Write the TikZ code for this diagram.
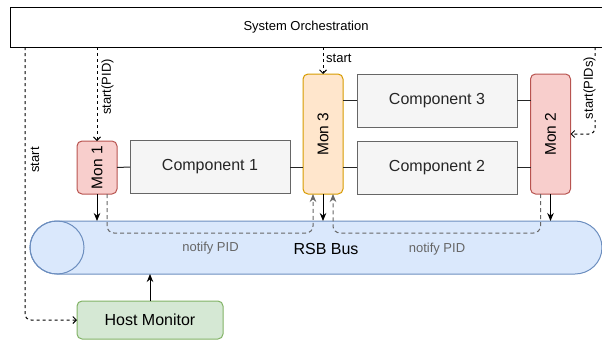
\documentclass[tikz,border=0pt]{standalone}
\usepackage{fontspec}
\setmainfont{Liberation Sans}
\usetikzlibrary{arrows.meta,calc}
\definecolor{monred}{HTML}{F8CECC}
\definecolor{monredline}{HTML}{B85450}
\definecolor{monorange}{HTML}{FFE6CC}
\definecolor{monorangeline}{HTML}{D79B00}
\definecolor{compfill}{HTML}{F5F5F5}
\definecolor{compline}{HTML}{666666}
\definecolor{busfill}{HTML}{DAE8FC}
\definecolor{busline}{HTML}{6C8EBF}
\definecolor{hostfill}{HTML}{D5E8D4}
\definecolor{hostline}{HTML}{82B366}
\definecolor{notifygray}{HTML}{666666}
\begin{document}
\begin{tikzpicture}[x=1pt,y=-1pt,
  base/.style={inner sep=0pt,outer sep=0pt,line width=1pt},
  compbox/.style={base,draw=compline,fill=compfill,minimum width=160pt,minimum height=53pt,font=\fontsize{16}{18}\selectfont,text=black!85},
  monbox/.style={base,rounded corners=5pt,minimum width=40pt,font=\fontsize{15.5}{18}\selectfont},
  redmon/.style={monbox,draw=monredline,fill=monred},
  orangemon/.style={monbox,draw=monorangeline,fill=monorange},
  link/.style={line width=1pt,draw=black!85},
  feed/.style={line width=1pt,-{Stealth[length=8pt,width=6.5pt]}},
  startline/.style={line width=1pt,dash pattern=on 3pt off 3pt,rounded corners=6pt,-{Straight Barb[length=3.5pt,width=7pt]}},
  notifyline/.style={line width=1pt,draw=notifygray,dash pattern=on 4pt off 3pt,rounded corners=7pt,-{Stealth[length=8pt,width=6.5pt]},fill=none},
  small/.style={font=\fontsize{13}{15}\selectfont,inner sep=1pt}
]
\useasboundingbox (0,0) rectangle (602,340);

% orchestration layer across the top
\node[base,draw=black,fill=white,minimum width=612pt,minimum height=40pt,anchor=north west] (orch) at (10,7) {};
\node[small] (orchtxt) at (306,27) {System Orchestration};

% message bus drawn as a horizontal cylinder
\path[draw=busline,fill=busfill,line width=1pt]
  (57,221) -- (575,221) arc[start angle=90,end angle=-90,x radius=27,y radius=-26.5]
  -- (57,274) arc[start angle=-90,end angle=-270,x radius=27,y radius=-26.5] -- cycle;
\draw[busline,line width=1pt] (57,247.5) ellipse[x radius=27,y radius=26.5];
\node[base,minimum width=572pt,minimum height=53pt] (bus) at (316,247.5) {};
\node[font=\fontsize{16}{18}\selectfont] (bustxt) at (326,248.5) {RSB Bus};

% monitors and components
\node[redmon,minimum height=53pt] (mon1) at (97,167.5) {\rotatebox{90}{Mon 1}};
\node[compbox] (comp1) at (210,167) {Component 1};
\node[orangemon,minimum height=120pt] (mon3) at (323,134) {\rotatebox{90}{Mon 3}};
\node[compbox] (comp3) at (437,100.5) {Component 3};
\node[compbox] (comp2) at (437,167.5) {Component 2};
\node[redmon,minimum height=120pt] (mon2) at (550.5,134) {\rotatebox{90}{Mon 2}};

\node[base,draw=hostline,fill=hostfill,rounded corners=5pt,minimum width=146pt,minimum height=38pt,font=\fontsize{16}{18}\selectfont] (host) at (150,320) {Host Monitor};

% component wiring
\draw[link] (mon1.east) -- (comp1.west);
\draw[link] (comp1.east) -- (comp1.east -| mon3.west);
\draw[link] (comp3.west -| mon3.east) -- (comp3.west);
\draw[link] (comp2.west -| mon3.east) -- (comp2.west);
\draw[link] (comp3.east) -- (comp3.east -| mon2.west);
\draw[link] (comp2.east) -- (comp2.east -| mon2.west);

% monitors publishing onto the bus
\draw[feed] (mon1.south) -- (mon1.south |- bus.north);
\draw[feed] (mon3.south) -- (mon3.south |- bus.north);
\draw[feed] (mon2.south) -- (mon2.south |- bus.north);
\draw[feed] (host.north) -- (host.north |- bus.south);

% PID notifications delivered to Mon 3
\draw[notifyline] ($(mon1.south)!0.5!(mon1.south east)$) -- ++(0,39)
  -| ($(mon3.south)!0.5!(mon3.south west)$);
\draw[notifyline] ($(mon2.south)!0.5!(mon2.south west)$) -- ++(0,39)
  -| ($(mon3.south)!0.5!(mon3.south east)$);
\node[small,text=notifygray] (n1) at (210.5,248.5) {notify PID};
\node[small,text=notifygray] (n2) at (437,249) {notify PID};

% start commands from the orchestration
\draw[startline] (mon1.north |- orch.south) -- (mon1.north);
\node[small,rotate=90,fill=white] (s1) at (107.5,87) {start(PID)};

\draw[startline] ($(orch.south west)+(15,0)$) |- (host.west);
\node[small,rotate=90] (s0) at (35,160) {start};

\draw[startline] (mon3.north |- orch.south) -- (mon3.north);
\node[small,anchor=west] (s3) at (325,58) {start};

\draw[startline] ($(orch.south west)+(585,0)$) |- (mon2.east);
\node[small,rotate=90,fill=white,inner sep=0.5pt] (s2) at (589.5,88) {start(PIDs)};
\end{tikzpicture}
\end{document}
